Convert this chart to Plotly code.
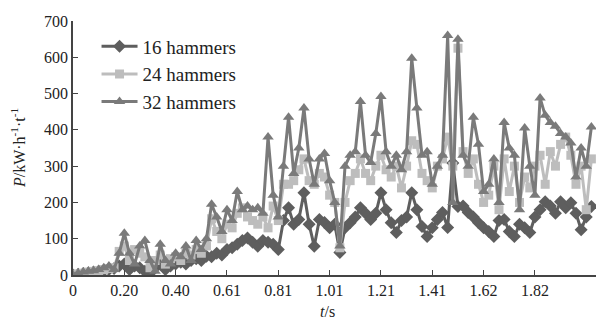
import plotly.graph_objects as go

# time categories (s), 102 samples
t = [round(i * 2 / 99, 4) for i in range(102)]
tick_vals_idx = [0, 10, 20, 30, 40, 50, 60, 70, 80, 90]
tick_text = ["0", "0.20", "0.40", "0.61", "0.81", "1.01", "1.21", "1.41", "1.62", "1.82"]

p16 = [0, 2, 4, 6, 8, 10, 12, 15, 18, 25, 30, 15, 25, 20, 10, 5, 20, 30, 15, 25,
       30, 35, 30, 40, 45, 40, 52, 50, 60, 55, 70, 75, 85, 95, 102, 90, 79, 95, 90, 85,
       70, 150, 185, 140, 153, 227, 140, 79, 153, 145, 130, 140, 62, 130, 144, 160, 185, 170, 153, 170,
       227, 180, 144, 117, 150, 160, 227, 180, 134, 106, 130, 153, 172, 131, 309, 189, 190, 172, 160, 144,
       130, 120, 106, 150, 153, 120, 106, 140, 130, 117, 160, 180, 202, 190, 170, 202, 185, 199, 170, 125,
       160, 189]

p24 = [0, 3, 5, 8, 10, 12, 15, 18, 20, 65, 80, 40, 70, 60, 50, 20, 40, 55, 30, 45,
       50, 40, 60, 55, 70, 60, 80, 155, 120, 100, 140, 130, 170, 185, 160, 150, 140, 160, 130, 190,
       150, 250, 250, 260, 290, 320, 260, 250, 280, 270, 220, 200, 75, 200, 260, 280, 320, 280, 260, 300,
       330, 290, 270, 300, 240, 300, 370, 360, 280, 260, 240, 300, 320, 380, 300, 625, 340, 280, 320, 250,
       200, 220, 300, 180, 320, 230, 300, 200, 270, 240, 300, 330, 250, 340, 300, 360, 380, 330, 250, 300,
       180, 320]

p32 = [0, 5, 8, 10, 12, 15, 20, 25, 15, 60, 115, 60, 30, 80, 95, 40, 10, 85, 40, 30,
       60, 50, 80, 40, 95, 70, 100, 195, 160, 120, 180, 150, 230, 180, 190, 180, 185, 170, 380, 220,
       160, 300, 435, 280, 350, 460, 320, 250, 320, 335, 260, 200, 80, 300, 330, 340, 478, 330, 310, 390,
       492, 340, 300, 330, 290, 340, 597, 460, 330, 340, 250, 300, 330, 660, 200, 650, 330, 300, 435, 360,
       230, 250, 320, 200, 420, 350, 330, 180, 405, 300, 220, 488, 440, 420, 410, 390, 380, 364, 270, 350,
       300, 408]

series = [
    ("16 hammers", p16, "#5e5e5e", "diamond", 10),
    ("24 hammers", p24, "#bdbdbd", "square", 9),
    ("32 hammers", p32, "#7a7a7a", "triangle-up", 10),
]

fig = go.Figure()
for name, vals, col, sym, ms in series:
    fig.add_trace(go.Scatter(
        x=t, y=vals, name=name, mode="lines+markers",
        line=dict(color=col, width=3),
        marker=dict(symbol=sym, size=ms, color=col),
    ))

font = "Liberation Serif, Times New Roman, serif"
step = 2 / 99
fig.update_layout(
    width=596, height=325,
    margin=dict(l=73, r=0, t=21, b=50),
    paper_bgcolor="white", plot_bgcolor="white",
    font=dict(family=font, size=16, color="#222"),
    showlegend=True,
    legend=dict(x=0.045, y=0.975, xanchor="left", yanchor="top",
                bgcolor="rgba(0,0,0,0)", font=dict(size=19),
                tracegroupgap=0, itemwidth=36),
    xaxis=dict(
        range=[0, 101.9 * step], automargin=False,
        tickvals=[i * step for i in tick_vals_idx], ticktext=tick_text,
        showline=True, linecolor="#444", linewidth=1.5,
        ticks="inside", ticklen=5, tickcolor="#444",
        showgrid=False, zeroline=False,
    ),
    yaxis=dict(
        range=[0, 700], dtick=100, automargin=False,
        showline=True, linecolor="#444", linewidth=1.5,
        ticks="inside", ticklen=5, tickcolor="#444",
        showgrid=False, zeroline=False,
    ),
    annotations=[
        dict(text="<i>t</i>/s", xref="paper", yref="paper", x=0.487, y=-0.144,
             xanchor="center", yanchor="middle", showarrow=False, font=dict(size=16)),
        dict(text="<i>P</i>/kW·h<sup>-1</sup>·t<sup>-1</sup>", xref="paper", yref="paper",
             x=-0.105, y=0.5, xanchor="center", yanchor="middle", textangle=-90,
             showarrow=False, font=dict(size=16)),
    ],
)

fig.write_html("out.html",
               config={"displayModeBar": False},
               post_script="document.body.style.margin='0';document.body.style.overflow='hidden';")
